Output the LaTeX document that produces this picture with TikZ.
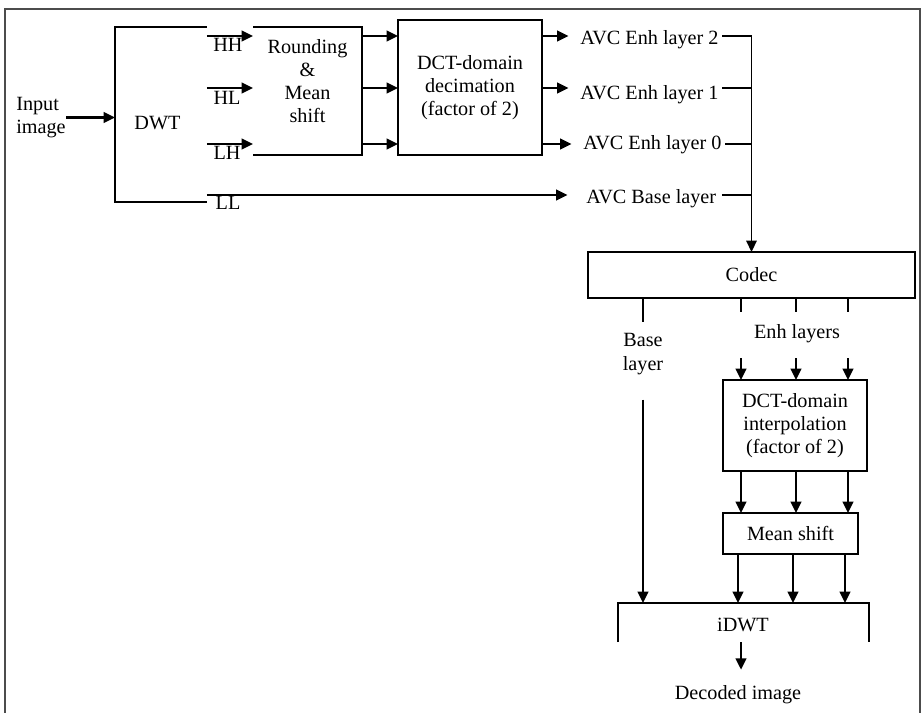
\documentclass[tikz,border=0pt]{standalone}
\usepackage{fontspec}
\setmainfont{Liberation Serif}
\usetikzlibrary{arrows.meta, positioning, calc}

\begin{document}
\begin{tikzpicture}[
		x=0.02cm, y=-0.02cm,
		font=\fontsize{11.5}{13.2}\selectfont,
		% Styles
		blockBox/.style={draw=black, line width=0.8pt, inner sep=0pt, outer sep=0pt, align=center},
		openBox/.style={inner sep=0pt, outer sep=0pt},
		boxSide/.style={draw=black, line width=0.8pt},
		textLabel/.style={inner sep=0pt, align=center},
		layerLabel/.style={inner sep=0pt, anchor=base west},
		bandLabel/.style={inner sep=0pt, anchor=base},
		flowArrow/.style={-{Triangle[length=6.5pt, width=6pt]}, line width=1.4pt},
		flowLine/.style={line width=1.4pt},
		busLine/.style={line width=0.9pt},
		frameLine/.style={draw=black!70, line width=1.1pt}
		]
		
		\useasboundingbox (0,0) rectangle (923,713);
		\draw[frameLine] (5,713) -- (5,9) -- (920,9) -- (920,713);
		
		% =========================================================
		% 1. ENCODER (DWT, rounding, decimation)
		% =========================================================
		\coordinate (rowTwo) at (0,36);
		\coordinate (rowOne) at (0,88);
		\coordinate (rowZero) at (0,144);
		\coordinate (rowBase) at (0,195);
		
		\node[textLabel, align=left] (inputImg) at (41,117.5) {Input\\image};
		
		\node[openBox, minimum width=1.84cm, minimum height=3.5cm] (dwt) at (161,114.5) {};
		\draw[boxSide] (dwt.north east) -- (dwt.north west) -- (dwt.south west) -- (dwt.south east);
		\node[bandLabel] (dwtLbl) at (157.5,130) {DWT};
		
		\node[openBox, minimum width=2.18cm, minimum height=2.56cm] (rnd) at (307.5,91) {};
		\draw[boxSide] (rnd.north west) -- (rnd.north east) -- (rnd.south east) -- (rnd.south west);
		\node[textLabel] (rndLbl) at (307.5,81) {Rounding\\\&\\Mean\\shift};
		
		\node[blockBox, minimum width=2.88cm, minimum height=2.7cm] (dct) at (470,87.5) {DCT-domain\\decimation\\(factor of 2)};
		
		% Subband labels
		\node[bandLabel] (hhLbl) at (228,52) {HH};
		\node[bandLabel] (hlLbl) at (227,105) {HL};
		\node[bandLabel] (lhLbl) at (227,159) {LH};
		\node[bandLabel] (llLbl) at (228,209) {LL};
		
		% AVC layers
		\node[layerLabel] (enhTwo) at (580,45) {AVC Enh layer 2};
		\node[layerLabel] (enhOne) at (580,100) {AVC Enh layer 1};
		\node[layerLabel] (enhZero) at (583,150) {AVC Enh layer 0};
		\node[layerLabel] (avcBase) at (586,203) {AVC Base layer};
		
		\node[blockBox, minimum width=6.54cm, minimum height=0.92cm] (codec) at (751.5,275) {Codec};
		
		\draw[flowArrow] (inputImg.east) -- (inputImg.east -| dwt.west);
		\foreach \row/\lbl in {rowTwo/enhTwo,rowOne/enhOne,rowZero/enhZero} {
			\draw[flowArrow] (dwt.east |- \row) -- (rnd.west |- \row);
			\draw[flowArrow] (rnd.east |- \row) -- (dct.west |- \row);
			\draw[flowArrow, shorten >=6.5pt] (dct.east |- \row) -- (\lbl.west |- \row);
			\draw[busLine, shorten <=2pt] (\lbl.east |- \row) -- (codec.north |- \row);
		}
		\draw[flowArrow, shorten >=10.5pt] (dwt.east |- rowBase) -- (avcBase.west |- rowBase);
		\draw[busLine, shorten <=3pt] (avcBase.east |- rowBase) -- (codec.north |- rowBase);
		\draw[busLine, -{Triangle[length=6.5pt, width=6pt]}] (codec.north |- rowTwo) -- (codec.north);
		
		% =========================================================
		% 2. DECODER (interpolation, mean shift, iDWT)
		% =========================================================
		\coordinate (colA) at (741,0);
		\coordinate (colB) at (796,0);
		\coordinate (colC) at (848,0);
		
		\node[textLabel] (baseLbl) at (643,354) {Base\\layer};
		\node[textLabel] (enhLbl) at (797,334) {Enh layers};
		\node[blockBox, minimum width=2.88cm, minimum height=1.82cm] (interp) at (795,425.5) {DCT-domain\\interpolation\\(factor of 2)};
		\node[blockBox, minimum width=2.7cm, minimum height=0.82cm] (meanShift) at (790.5,533.5) {Mean shift};
		
		\node[openBox, minimum width=5.02cm, minimum height=0.78cm] (idwt) at (743.5,622.5) {};
		\draw[boxSide] (idwt.south west) -- (idwt.north west) -- (idwt.north east) -- (idwt.south east);
		\node[textLabel] (idwtLbl) at (743,625) {iDWT};
		\node[bandLabel] (decoded) at (738,699) {Decoded image};
		
		\draw[flowLine] (codec.south -| baseLbl) -- ++(0,24);
		\draw[flowArrow] (baseLbl.south) ++(0,25) -- (baseLbl.south |- idwt.north);
		\foreach \col in {colA,colB,colC} {
			\draw[flowLine] (codec.south -| \col) -- ++(0,14);
			\draw[flowArrow] (interp.north -| \col) ++(0,-22) -- (interp.north -| \col);
			\draw[flowArrow] (interp.south -| \col) -- (meanShift.north -| \col);
			\draw[flowArrow] ([xshift=-0.06cm]meanShift.south -| \col) -- ([xshift=-0.06cm]idwt.north -| \col);
		}
		\draw[flowArrow, shorten >=8.5pt] (idwt.south -| colA) -- (decoded.north -| colA);
		
	\end{tikzpicture}
\end{document}
